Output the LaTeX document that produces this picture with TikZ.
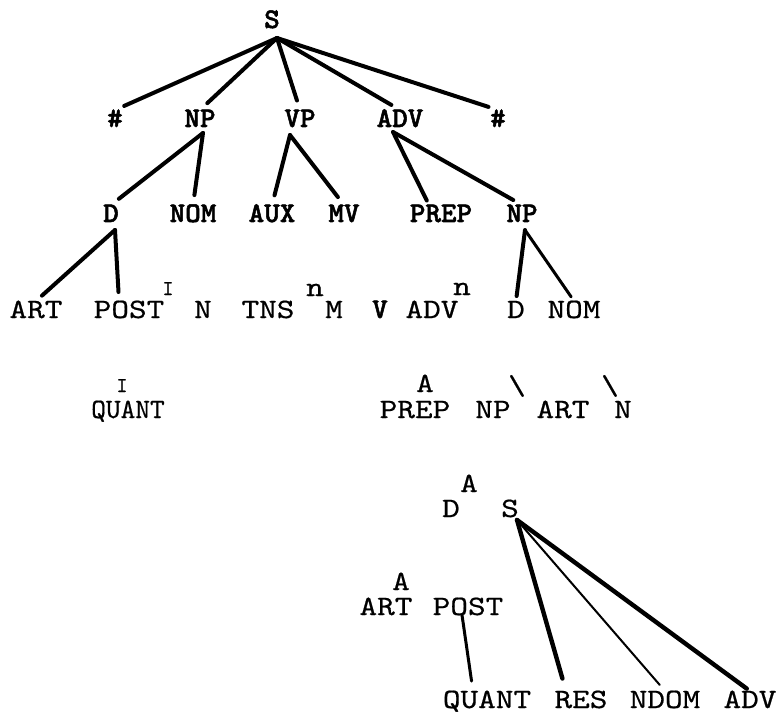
\documentclass[tikz,border=0pt]{standalone}
\usepackage{fontspec}
\newfontfamily\typefont{lmmono10-regular.otf}[FakeBold=0.5]
\newfontfamily\widefont{lmmono10-regular.otf}[FakeStretch=1.2, FakeBold=0.6]
\newfontfamily\heavyfont{lmmonolt10-bold.otf}[FakeStretch=1.04, FakeBold=1.8]
\tikzset{
  base/.style={inner sep=0pt, outer sep=0pt, anchor=base, text height=17pt, text depth=0pt},
  cat/.style={base, font=\heavyfont\fontsize{28.5pt}{30pt}\selectfont},
  word/.style={base, font=\widefont\fontsize{28pt}{30pt}\selectfont},
  small/.style={base, text height=13pt, font=\typefont\fontsize{21pt}{22pt}\selectfont},
  branch/.style={line width=4pt, line cap=round, shorten >=10pt},
  twig/.style={branch, line width=2pt}
}

\begin{document}
\begin{tikzpicture}[x=1pt, y=-1pt]
    \useasboundingbox (0,0) rectangle (779,714);

    % top of the tree
    \node[cat] (s) at (272,28) {S};
    \node[cat] (hash1) at (115,127) {\#};
    \node[cat] (np) at (200,127) {NP};
    \node[cat] (vp) at (300,127) {VP};
    \node[cat] (adv) at (400,127) {ADV};
    \node[cat] (hash2) at (498,127) {\#};

    \node[cat] (d) at (111,222) {D};
    \node[cat] (nom) at (193,222) {NOM};
    \node[cat] (aux) at (272,222) {AUX};
    \node[cat] (mv) at (344,222) {MV};
    \node[cat] (prep) at (441,222) {PREP};
    \node[cat] (np2) at (522,222) {NP};

    % terminal row
    \node[word] (art) at (36,318) {ART};
    \node[word] (post) at (129,318) {POST};
    \node[small] (post-i) at (168,295) {I};
    \node[word] (n) at (203,318) {N};
    \node[word] (tns) at (268,318) {TNS};
    \node[word] (m-n) at (315,296) {n};
    \node[word] (m) at (334,318) {M};
    \node[cat] (v) at (380,318) {V};
    \node[word] (adv2) at (432,318) {ADV};
    \node[word] (adv2-n) at (462,295) {n};
    \node[word] (d2) at (516,318) {D};
    \node[word] (nom2) at (574,318) {NOM};

    % expansions below
    \node[small] (quant-i) at (122,392) {I};
    \node[word, font=\typefont\fontsize{28pt}{30pt}\selectfont] (quant) at (128,418) {QUANT};
    \node[word] (prep2-a) at (425,392) {A};
    \node[word] (prep2) at (415,418) {PREP};
    \node[word] (np3) at (493,418) {NP};
    \node[word, anchor=center] (bs1) at (517,386) {\textbackslash};
    \node[word] (art3) at (563,418) {ART};
    \node[word, anchor=center] (bs2) at (610,386) {\textbackslash};
    \node[word] (n3) at (623,418) {N};

    \node[word] (d3-a) at (469,492) {A};
    \node[word] (d3) at (451,517) {D};
    \node[word] (s2) at (510,517) {S};
    \node[word] (art2-a) at (401,590) {A};
    \node[word] (art2) at (386,615) {ART};
    \node[word] (post2) at (468,615) {POST};

    \node[word] (quant2) at (487,708) {QUANT};
    \node[word] (res) at (581,708) {RES};
    \node[word] (ndom) at (665,708) {NDOM};
    \node[word] (adv3) at (750,708) {ADV};

    % where the branches meet
    \coordinate (s-root) at ([xshift=5pt,yshift=-10pt]s.south);
    \coordinate (np-root) at ([xshift=3pt,yshift=-6pt]np.south);
    \coordinate (vp-root) at ([xshift=-10pt,yshift=-8pt]vp.south);
    \coordinate (adv-root) at ([xshift=-7pt,yshift=-5pt]adv.south);
    \coordinate (d-root) at ([xshift=4pt,yshift=-8pt]d.south);
    \coordinate (np2-root) at ([xshift=3pt,yshift=-8pt]np2.south);
    \coordinate (s2-root) at ([xshift=7pt,yshift=-3pt]s2.south);

    \draw[branch] (s-root) -- (hash1.north);
    \draw[branch] (s-root) -- (np.north);
    \draw[branch] (s-root) -- (vp.north);
    \draw[branch] (s-root) -- (adv.north);
    \draw[branch] (s-root) -- (hash2.north);

    \draw[branch] (np-root) -- (d.north);
    \draw[branch] (np-root) -- (nom.north);
    \draw[branch] (vp-root) -- (aux.north);
    \draw[branch] (vp-root) -- (mv.north);
    \draw[branch, shorten >=5pt] (adv-root) -- ([xshift=-12pt]prep.north);
    \draw[branch] (adv-root) -- (np2.north);

    \draw[branch, shorten >=8pt] (d-root) -- (art.north);
    \draw[branch, shorten >=9pt] (d-root) -- ([xshift=-10pt]post.north);
    \draw[branch, shorten >=5pt] (np2-root) -- (d2.north);
    \draw[branch, line width=3pt, shorten >=5pt] (np2-root) -- (nom2.north);

    \draw[branch, line width=3pt] ([xshift=-6pt]post2.south) -- ([xshift=-14pt]quant2.north);
    \draw[branch, line width=4.4pt, shorten >=13pt] (s2-root) -- ([xshift=-15pt]res.north);
    \draw[twig, shorten >=8pt] (s2-root) -- (ndom.north);
    \draw[branch, line width=4.4pt, shorten >=4pt] (s2-root) -- (adv3.north);
  \end{tikzpicture}
\end{document}
